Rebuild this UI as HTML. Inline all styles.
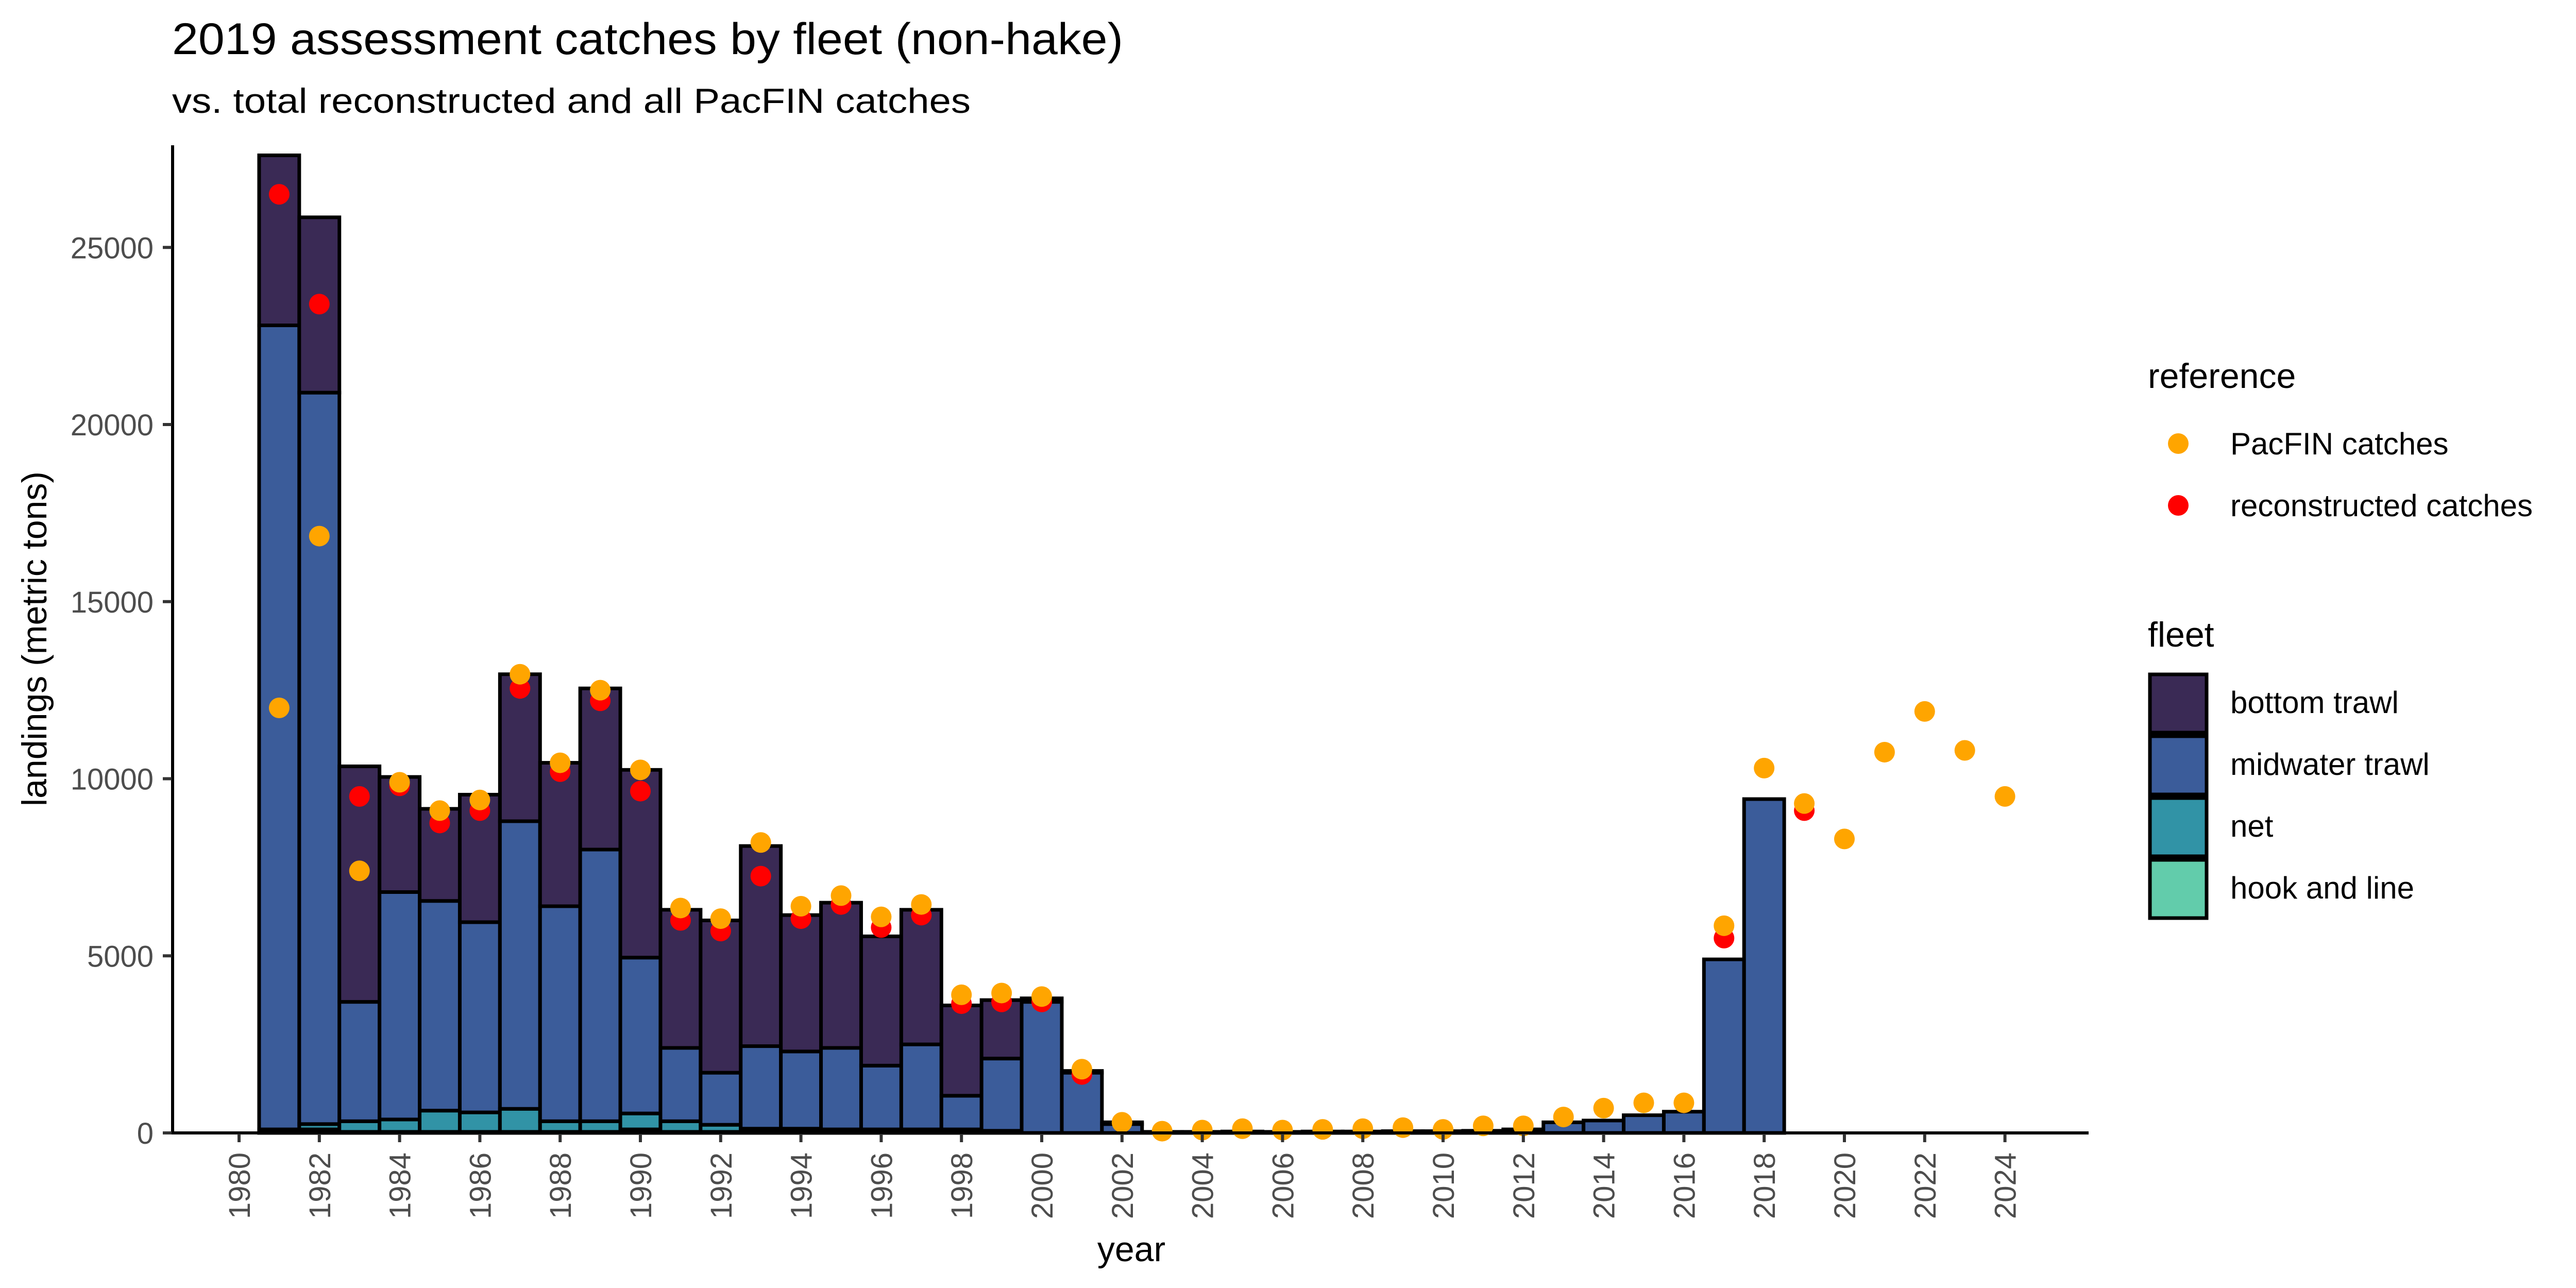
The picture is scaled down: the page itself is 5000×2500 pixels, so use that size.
<!DOCTYPE html>
<html><head><meta charset="utf-8"><style>
html,body{margin:0;padding:0;background:#fff;}
svg{display:block;font-family:"Liberation Sans",Arial,sans-serif;}
</style></head><body>
<svg id="chart" width="5000" height="2500" viewBox="0 0 5000 2500" xmlns="http://www.w3.org/2000/svg">
<text x="334" y="105" font-size="86" textLength="1846" lengthAdjust="spacingAndGlyphs">2019 assessment catches by fleet (non-hake)</text>
<text x="334" y="219" font-size="68" textLength="1550" lengthAdjust="spacingAndGlyphs">vs. total reconstructed and all PacFIN catches</text>
<g id="plot"></g>
<text transform="translate(90,1240) rotate(-90)" text-anchor="middle" font-size="68">landings (metric tons)</text>
<text x="2196" y="2448" text-anchor="middle" font-size="68">year</text>
<g>
<text x="4169" y="753" font-size="68">reference</text>
<circle cx="4228" cy="861" r="20" fill="#FFA500"/>
<text x="4329" y="882" font-size="60">PacFIN catches</text>
<circle cx="4228" cy="981" r="20" fill="#FF0000"/>
<text x="4329" y="1002" font-size="60">reconstructed catches</text>
</g>
<g>
<text x="4169" y="1255" font-size="68">fleet</text>
<rect x="4173" y="1309" width="110" height="113" fill="#3A2A55" stroke="#000" stroke-width="7"/>
<text x="4329" y="1384" font-size="60">bottom trawl</text>
<rect x="4173" y="1429" width="110" height="113" fill="#3B5C9A" stroke="#000" stroke-width="7"/>
<text x="4329" y="1504" font-size="60">midwater trawl</text>
<rect x="4173" y="1549" width="110" height="113" fill="#3193A6" stroke="#000" stroke-width="7"/>
<text x="4329" y="1624" font-size="60">net</text>
<rect x="4173" y="1669" width="110" height="113" fill="#62CCAB" stroke="#000" stroke-width="7"/>
<text x="4329" y="1744" font-size="60">hook and line</text>
</g>
</svg>
<script>
const years = [1981,1982,1983,1984,1985,1986,1987,1988,1989,1990,1991,1992,1993,1994,1995,1996,1997,1998,1999,2000,2001,2002,2003,2004,2005,2006,2007,2008,2009,2010,2011,2012,2013,2014,2015,2016,2017,2018];
const hookLine = [0,100,30,30,30,30,30,30,30,100,30,30,20,20,20,20,20,20,10,0,0,0,0,0,0,0,0,0,0,0,0,0,0,0,0,0,0,0];
const netCatch = [100,150,300,350,600,550,650,300,300,450,300,200,100,100,80,80,80,80,50,0,0,0,0,0,0,0,0,0,0,0,0,0,0,0,0,0,0,0];
const midwater = [22700,20650,3370,6420,5920,5370,8120,6070,7670,4400,2070,1470,2330,2180,2300,1800,2400,950,2040,3700,1700,250,30,30,40,30,40,40,50,50,60,100,300,350,500,600,4900,9425];
const bottomTrawl = [4800,4950,6650,3250,2600,3600,4150,4050,4550,5300,3900,4300,5650,3850,4100,3650,3800,2550,1650,100,50,50,0,0,0,0,0,0,0,0,0,0,0,0,0,0,0,0];
const pacYears = [1981,1982,1983,1984,1985,1986,1987,1988,1989,1990,1991,1992,1993,1994,1995,1996,1997,1998,1999,2000,2001,2002,2003,2004,2005,2006,2007,2008,2009,2010,2011,2012,2013,2014,2015,2016,2017,2018,2019,2020,2021,2022,2023,2024];
const pacfin = [12000,16850,7400,9900,9100,9400,12950,10450,12500,10250,6350,6050,8200,6400,6700,6100,6450,3900,3950,3850,1800,300,50,80,120,80,100,120,150,100,200,200,450,700,850,850,5850,10300,9300,8300,10750,11900,10800,9500];
const reconYears = [1981,1982,1983,1984,1985,1986,1987,1988,1989,1990,1991,1992,1993,1994,1995,1996,1997,1998,1999,2000,2001,2017,2019];
const reconstructed = [26500,23400,9500,9800,8750,9100,12550,10200,12200,9650,6000,5700,7250,6050,6450,5800,6150,3650,3700,3700,1650,5500,9100];
const yTicks = [0,5000,10000,15000,20000,25000];
const xTicks = [1980,1982,1984,1986,1988,1990,1992,1994,1996,1998,2000,2002,2004,2006,2008,2010,2012,2014,2016,2018,2020,2022,2024];

const NS = "http://www.w3.org/2000/svg";
const plot = document.getElementById('plot');
const X0 = 464, PXY = 77.9, Y0 = 2199, PXV = 0.06875;
const xs = v => X0 + (v - 1980) * PXY;
const ys = v => Y0 - v * PXV;
function mk(tag, attrs){const e=document.createElementNS(NS,tag);for(const k in attrs)e.setAttribute(k,attrs[k]);plot.appendChild(e);return e;}

const fleets = [[hookLine,'#62CCAB','hook-and-line'],[netCatch,'#3193A6','net'],[midwater,'#3B5C9A','midwater-trawl'],[bottomTrawl,'#3A2A55','bottom-trawl']];
years.forEach((yr,i)=>{
  let cum = 0;
  fleets.forEach(([arr,col,nm])=>{
    const v = arr[i];
    if(v<=0) return;
    const r = mk('rect',{x:xs(yr)-PXY/2,y:ys(cum+v),width:PXY,height:v*PXV,fill:col,stroke:'#000','stroke-width':7});
    
    
    cum += v;
  });
});
reconYears.forEach((yr,i)=>{
  const c = mk('circle',{cx:xs(yr),cy:ys(reconstructed[i]),r:20,fill:'#FF0000'});
  
  
});
pacYears.forEach((yr,i)=>{
  const c = mk('circle',{cx:xs(yr),cy:ys(pacfin[i]),r:20,fill:'#FFA500'});
  
  
});
const ya = mk('line',{x1:335,y1:282,x2:335,y2:Y0+3,stroke:'#000','stroke-width':6});


const xa = mk('line',{x1:332,y1:Y0,x2:4054,y2:Y0,stroke:'#000','stroke-width':6});


yTicks.forEach(t=>{
  const l = mk('line',{x1:316,y1:ys(t),x2:333,y2:ys(t),stroke:'#333','stroke-width':6});
  
  
  const tx = mk('text',{x:298,y:ys(t)+21,'text-anchor':'end','font-size':58,fill:'#4D4D4D'});
  tx.textContent = t;
  
  
});
xTicks.forEach(t=>{
  const l = mk('line',{x1:xs(t),y1:Y0+2,x2:xs(t),y2:Y0+18,stroke:'#333','stroke-width':6});
  
  
  const tx = mk('text',{transform:`translate(${xs(t)+21},2237) rotate(-90)`,'text-anchor':'end','font-size':58,fill:'#4D4D4D'});
  tx.textContent = t;
  
  
});
</script>
</body></html>
